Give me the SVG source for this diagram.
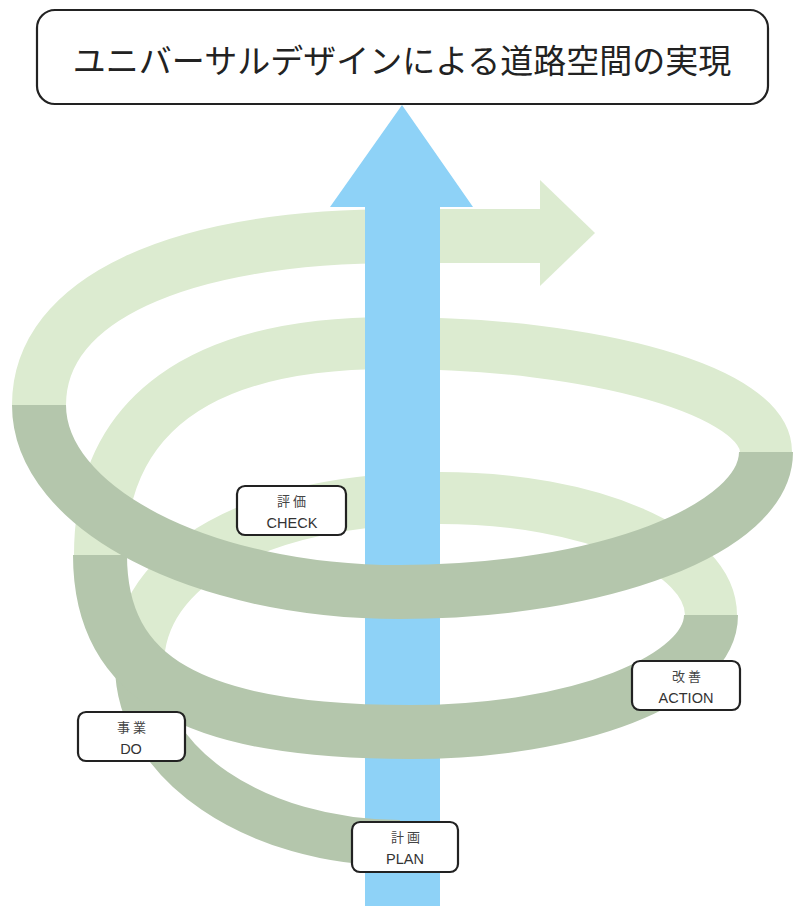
<svg xmlns="http://www.w3.org/2000/svg" width="794" height="906" viewBox="0 0 794 906">
<style>
.back{fill:none;stroke:#dcebd0;stroke-linecap:butt}
.front{fill:none;stroke:#b4c6ac;stroke-linecap:butt}
.box{fill:#ffffff;stroke:#222;stroke-width:2.2}
.jp{font-family:"Noto Sans CJK JP","Noto Sans",sans-serif;font-size:13px;fill:#444;text-anchor:middle;letter-spacing:3px}
.en{font-family:"Liberation Sans","Noto Sans",sans-serif;font-size:14.5px;fill:#333;text-anchor:middle}
.title{font-family:"Noto Sans CJK JP",sans-serif;font-size:33px;fill:#222;text-anchor:middle}
</style>
<rect width="794" height="906" fill="#ffffff"/>
<g id="connectors">
  <g id="spiral-back">
    <path class="back" stroke-width="54" d="M39,405 C39,300 176,236 400,236 L541,236"/>
    <polygon fill="#dcebd0" points="540,180 595,233 540,286"/>
    <path class="back" stroke-width="52" d="M100,555 C100,414 202,343 390,343 C598,343 766,392 766,452"/>
    <path class="back" stroke-width="52" d="M138,665 C138,565 259,498 440,498 C590,498 711,550 711,615"/>
  </g>
  <polygon id="progress-arrow" fill="#8ed2f7" points="365,906 365,207 330,207 402,105 473,207 440,207 440,906"/>
  <g id="spiral-front">
    <path class="front" stroke-width="46" d="M395,843 L400,843 C255,843 138,763 138,665"/>
    <path class="front" stroke-width="54" d="M711,615 C711,680 576,732 410,732 C193,732 100,679 100,555"/>
    <path class="front" stroke-width="54" d="M766,452 C766,529 602,592 400,592 C201,592 39,508 39,405"/>
  </g>
</g>
<g id="title">
  <rect class="box" x="37" y="10" width="731" height="94" rx="18"/>
  <text class="title" x="402" y="73">ユニバーサルデザインによる道路空間の実現</text>
</g>
<g id="check">
  <rect class="box" x="237" y="486" width="109" height="49" rx="8"/>
  <text class="jp" x="293" y="506">評価</text>
  <text class="en" x="292" y="528">CHECK</text>
</g>
<g id="action">
  <rect class="box" x="632" y="661" width="108" height="49" rx="8"/>
  <text class="jp" x="688" y="681">改善</text>
  <text class="en" x="686" y="703">ACTION</text>
</g>
<g id="do">
  <rect class="box" x="78" y="712" width="107" height="49" rx="8"/>
  <text class="jp" x="133" y="732">事業</text>
  <text class="en" x="131" y="754">DO</text>
</g>
<g id="plan">
  <rect class="box" x="352" y="822" width="106" height="50" rx="8"/>
  <text class="jp" x="407" y="842">計画</text>
  <text class="en" x="405" y="864">PLAN</text>
</g>
</svg>
